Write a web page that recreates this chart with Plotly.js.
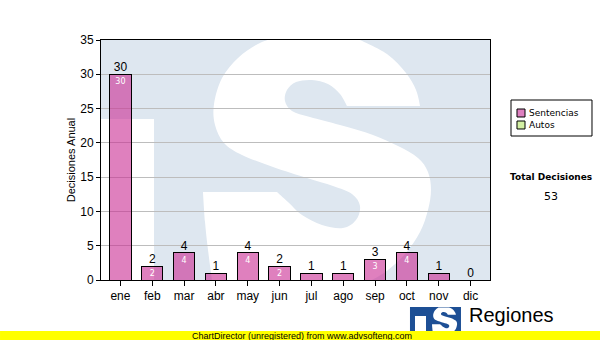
<!DOCTYPE html>
<html>
<head>
<meta charset="utf-8">
<script src="https://cdn.plot.ly/plotly-3.0.1.min.js"></script>
<style>html,body{margin:0;padding:0;background:#fff;}#chart{width:600px;height:340px;}</style>
</head>
<body>
<div id="chart"></div>
<script>
// ---- data ----
const months = ['ene','feb','mar','abr','may','jun','jul','ago','sep','oct','nov','dic'];
const sentencias = [30, 2, 4, 1, 4, 2, 1, 1, 3, 4, 1, 0];
const autos = [0, 0, 0, 0, 0, 0, 0, 0, 0, 0, 0, 0];
const seriesNames = ['Sentencias', 'Autos'];
const seriesColors = ['rgba(202,43,147,0.6)', '#d4f0a4'];
const legendColors = ['#de80c0', '#d4f0a4'];
const yTitle = 'Decisiones Anual';
const totalLabel = 'Total Decisiones';

const totals = months.map((m, i) => sentencias[i] + autos[i]);
const grandTotal = totals.reduce((a, b) => a + b, 0);

// ---- geometry helpers (pixel -> paper) ----
const PL = 101, PR = 490, PT = 40, PB = 280;
const px = x => (x - PL) / (PR - PL);
const py = y => (PB - y) / (PB - PT);
const fmt = p => px(p[0]).toFixed(4) + ',' + py(p[1]).toFixed(4);
function poly(pts) {
  return 'M' + pts.map(fmt).join('L') + 'Z';
}
// smooth closed path; points with a third element = 1 are corners
function smooth(pts) {
  const n = pts.length;
  let d = 'M' + fmt(pts[0]);
  for (let i = 0; i < n; i++) {
    const p0 = pts[(i - 1 + n) % n], p1 = pts[i], p2 = pts[(i + 1) % n], p3 = pts[(i + 2) % n];
    const c1 = p1[2] ? [p1[0], p1[1]] : [p1[0] + (p2[0] - p0[0]) / 6, p1[1] + (p2[1] - p0[1]) / 6];
    const c2 = p2[2] ? [p2[0], p2[1]] : [p2[0] - (p3[0] - p1[0]) / 6, p2[1] - (p3[1] - p1[1]) / 6];
    d += 'C' + fmt(c1) + ' ' + fmt(c2) + ' ' + fmt(p2);
  }
  return d + 'Z';
}

// watermark S outline (decoration)
const sPts = [
  [268,40,1],[360,40,1],[387,54],[406,73],[416,90],[420,106,1],[347,106,1],
  [340,94],[328,84],[312,80],[296,82],[287,90],[285,101],[292,111],[310,117],
  [340,125],[373,135],[398,146],[418,158],
  [428,172],[431,190],[428,210],[420,232],[405,254],[388,270],[372,280,1],
  [212,280,1],[208,250],[205,222],[203,192,1],[277,192,1],
  [288,202],[302,215],[322,225],[343,228],[356,220],[360,206],[352,194],[333,186],[307,178],[273,167],[242,155],
  [224,143],[215,125],[214,104],[222,78],[238,58],[256,45]
];
const iCut = [[101,119],[154,119],[154,280],[101,280]];

// small logo mapping
const LS = 0.11;
const lx = x => 432 + (x - 203) * LS;
const ly = y => 307 + (y - 35) * LS;
const sLogo = sPts.map(p => [lx(p[0]), ly(p[1]), p[2]]);

const shapes = [];
shapes.push({type:'path', xref:'paper', yref:'paper', layer:'below', path: poly(iCut), fillcolor:'#ffffff', line:{width:0}});
shapes.push({type:'path', xref:'paper', yref:'paper', layer:'below', path: smooth(sPts), fillcolor:'#ffffff', line:{width:0}});
// logo
shapes.push({type:'path', xref:'paper', yref:'paper', layer:'above', path: poly([[410,307],[461,307],[461,331],[410,331]]), fillcolor:'#1d4f95', line:{width:0}});
shapes.push({type:'path', xref:'paper', yref:'paper', layer:'above', path: poly([[415,316],[426,316],[426,331],[415,331]]), fillcolor:'#ffffff', line:{width:0}});
shapes.push({type:'path', xref:'paper', yref:'paper', layer:'above', path: smooth(sLogo), fillcolor:'#ffffff', line:{width:0}});
// yellow footer
shapes.push({type:'path', xref:'paper', yref:'paper', layer:'above', path: poly([[0,331],[600,331],[600,340],[0,340]]), fillcolor:'#ffff00', line:{width:0}});
// manual legend
shapes.push({type:'path', xref:'paper', yref:'paper', layer:'above', path: poly([[511,100],[592,100],[592,136],[511,136]]), fillcolor:'#ffffff', line:{width:1, color:'#000'}});
const legendY = [113, 125];
seriesNames.forEach((n, i) => {
  const cy = legendY[i];
  shapes.push({type:'path', xref:'paper', yref:'paper', layer:'above',
    path: poly([[517,cy-4],[525,cy-4],[525,cy+4],[517,cy+4]]), fillcolor: legendColors[i], line:{width:1, color:'#000'}});
});

const annotations = [];
seriesNames.forEach((n, i) => {
  annotations.push({xref:'paper', yref:'paper', x: px(527), y: py(legendY[i]), xanchor:'left', yanchor:'middle',
    text: n, showarrow:false, font:{family:'DejaVu Sans', size:9, color:'#000'}});
});
annotations.push({xref:'paper', yref:'paper', x: px(551), y: py(177), xanchor:'center', yanchor:'middle',
  text: '<b>' + totalLabel + '</b>', showarrow:false, font:{family:'DejaVu Sans', size:9, color:'#000'}});
annotations.push({xref:'paper', yref:'paper', x: px(551), y: py(196), xanchor:'center', yanchor:'middle',
  text: String(grandTotal), showarrow:false, font:{family:'DejaVu Sans', size:11, color:'#000'}});
annotations.push({xref:'paper', yref:'paper', x: px(190), y: py(335.5), xanchor:'left', yanchor:'middle',
  text: 'ChartDirector (unregistered) from www.advsofteng.com', showarrow:false, font:{family:'Liberation Sans', size:9, color:'#000'}});
annotations.push({xref:'paper', yref:'paper', x: px(467), y: py(315), xanchor:'left', yanchor:'middle',
  text: 'Regiones', showarrow:false, font:{family:'Liberation Sans', size:20, color:'#000'}});

const traces = [
  {type:'bar', name: seriesNames[0], x: months, y: sentencias,
   marker:{color: seriesColors[0], line:{color:'#000', width:1}},
   text: sentencias.map(v => v >= 2 ? String(v) : ''), textposition:'inside', insidetextanchor:'end',
   constraintext:'none', textangle:0, insidetextfont:{family:'DejaVu Sans', size:8, color:'#ffffff'}, hoverinfo:'skip'},
  {type:'bar', name: seriesNames[1], x: months, y: autos,
   marker:{color: seriesColors[1], line:{color:'#000', width:0}}, hoverinfo:'skip'},
  {type:'scatter', mode:'text', x: months, y: totals, text: totals.map(String), textposition:'top center',
   textfont:{family:'Liberation Sans', size:12, color:'#000'}, hoverinfo:'skip', showlegend:false, cliponaxis:false}
];

const layout = {
  width: 600, height: 340,
  margin: {l: PL, r: 600 - PR, t: PT, b: 340 - PB, autoexpand:false},
  paper_bgcolor:'#ffffff', plot_bgcolor:'#dee7f0',
  barmode:'stack', bargap:0.33, showlegend:false,
  font:{family:'Liberation Sans', size:12, color:'#000'},
  xaxis:{type:'category', ticks:'outside', ticklen:5, tickcolor:'#000', showline:true, mirror:true,
    linecolor:'#000', linewidth:1, showgrid:false, zeroline:false, tickfont:{family:'Liberation Sans', size:12, color:'#000'}},
  yaxis:{range:[0,35], dtick:5, ticks:'outside', ticklen:4, tickcolor:'#000', showline:true, mirror:true,
    linecolor:'#000', linewidth:1, showgrid:true, gridcolor:'#bdbdbd', gridwidth:1, zeroline:false,
    tickfont:{family:'Liberation Sans', size:12, color:'#000'},
    title:{text: yTitle, font:{family:'Liberation Sans', size:11, color:'#000'}, standoff:2}},
  shapes: shapes, annotations: annotations
};

Plotly.newPlot('chart', traces, layout, {staticPlot:true, displayModeBar:false});
</script>
</body>
</html>
